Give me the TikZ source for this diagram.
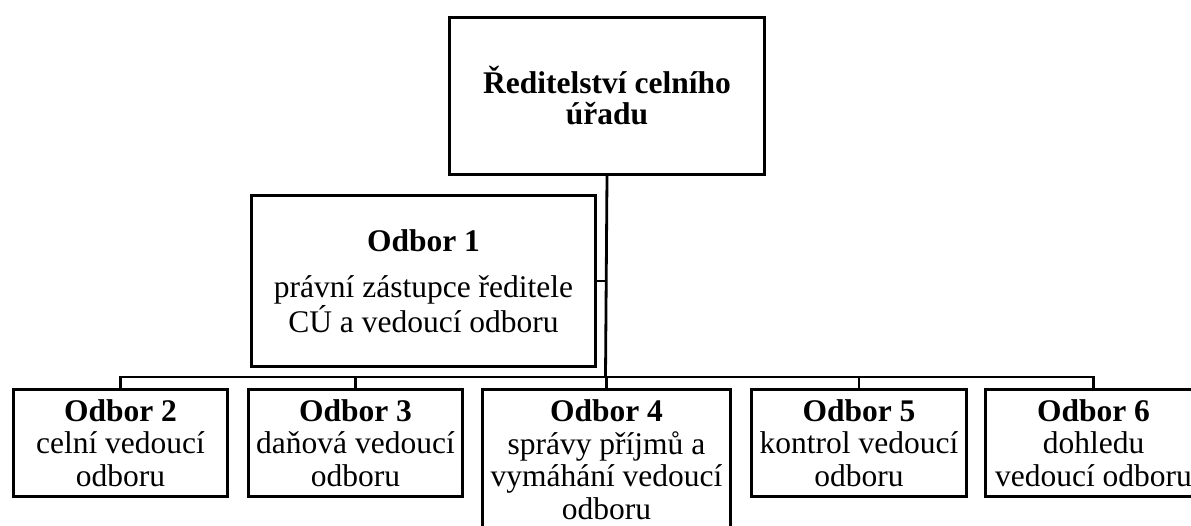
\documentclass[tikz,border=0pt]{standalone}
\usepackage{fontspec}
\setmainfont{Liberation Serif}
\begin{document}
\begin{tikzpicture}[x=1pt,y=-1pt,
  box/.style={draw, line width=3pt, inner sep=0pt, align=center, anchor=north west,
    font=\fontsize{31.5}{32.5}\selectfont},
  conn/.style={line width=2.8pt}]
\useasboundingbox (0,0) rectangle (1191,526);
\clip (0,0) rectangle (1191,526);
\node[box, minimum width=315pt, minimum height=157pt] (top) at (448,16)
  {\textbf{Ředitelství celního}\\[-1.5pt]\textbf{úřadu}};
\node[box, minimum width=344pt, minimum height=171pt] (o1) at (250,194)
  {\textbf{Odbor 1}\\[14pt]právní zástupce ředitele\\CÚ a vedoucí odboru};
\node[box, minimum width=214pt, minimum height=107pt] (o2) at (12,388)
  {\textbf{Odbor 2}\\celní vedoucí\\odboru};
\node[box, minimum width=214pt, minimum height=107pt] (o3) at (247,388)
  {\textbf{Odbor 3}\\daňová vedoucí\\odboru};
\node[box, minimum width=248pt, minimum height=140pt] (o4) at (481,388)
  {\textbf{Odbor 4}\\správy příjmů a\\vymáhání vedoucí\\odboru};
\node[box, minimum width=215pt, minimum height=107pt] (o5) at (750,388)
  {\textbf{Odbor 5}\\kontrol vedoucí\\odboru};
\node[box, minimum width=216pt, minimum height=107pt] (o6) at (984,388)
  {\textbf{Odbor 6}\\dohledu\\vedoucí odboru};
\coordinate (bus) at (605.5,377);
\draw[conn] (top.south) -- (bus);
\draw[conn] (o1.east) -- (o1.east -| bus);
\draw[conn] (bus) -| (o2.north);
\draw[conn] (bus) -| (o3.north);
\draw[conn] (bus) -| (o4.north);
\draw[conn] (bus) -| (o5.north);
\draw[conn] (bus) -| (o6.north);
\end{tikzpicture}
\end{document}
